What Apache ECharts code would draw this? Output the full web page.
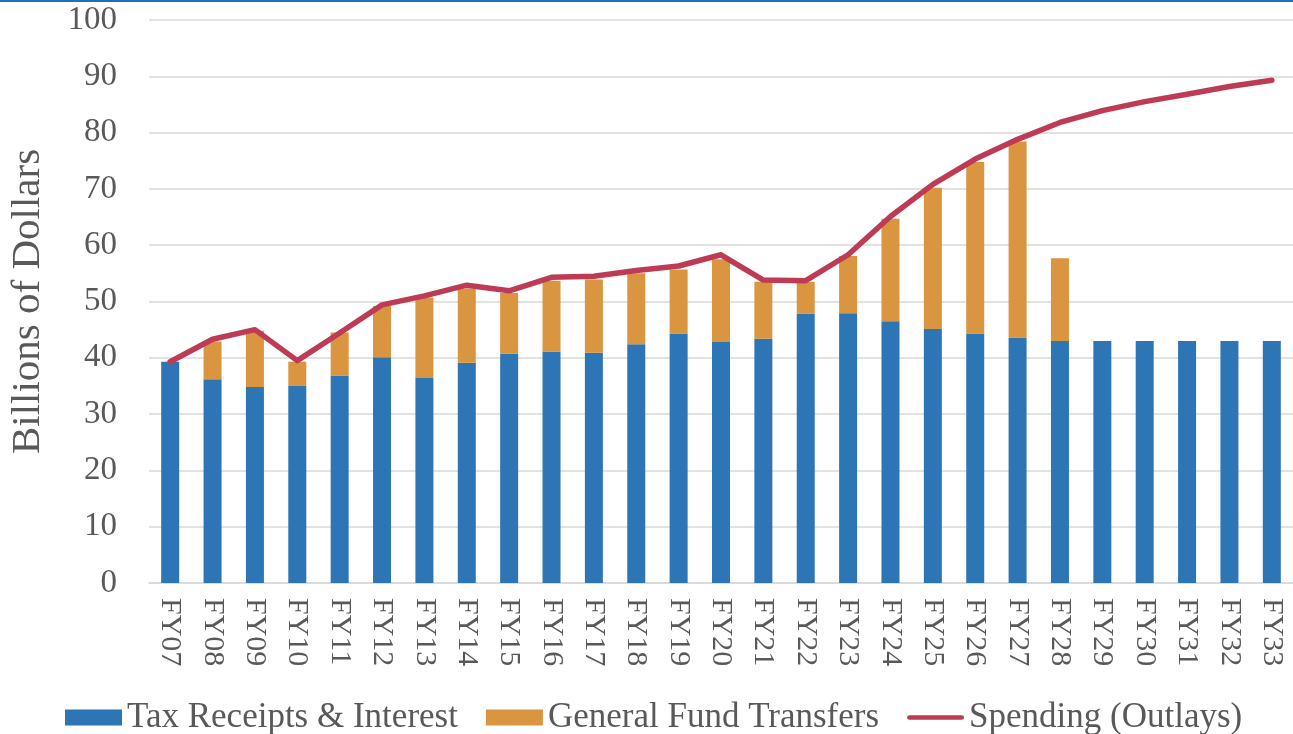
<!DOCTYPE html>
<html>
<head>
<meta charset="utf-8">
<script src="https://cdn.jsdelivr.net/npm/echarts@6/dist/echarts.min.js"></script>
<style>
  html,body{margin:0;padding:0;background:#fff;}
  #main{width:1293px;height:734px;}
  #topline{position:absolute;left:0;top:0;width:1293px;height:2px;background:#1f6fbf;}
</style>
</head>
<body>
<div id="main"></div>
<div id="topline"></div>
<script>
// 年度
var years = ['FY07','FY08','FY09','FY10','FY11','FY12','FY13','FY14','FY15','FY16','FY17','FY18','FY19','FY20',
             'FY21','FY22','FY23','FY24','FY25','FY26','FY27','FY28','FY29','FY30','FY31','FY32','FY33'];
// 税收及利息
var taxReceipts = [39.3,36.2,34.8,35.0,36.8,40.1,36.4,39.1,40.7,41.1,40.9,42.4,44.3,42.8,
                   43.4,47.8,47.9,46.5,45.1,44.3,43.6,43.0,43.0,43.0,43.0,43.0,43.0];
// 一般基金转移 (柱子总高, 减去税收)
var fundTotals = [39.3,42.9,44.8,39.3,44.5,49.2,50.7,52.3,51.5,53.7,53.9,55.0,55.7,57.5,
                  53.5,53.5,58.1,64.7,70.2,74.8,78.4,57.7,null,null,null,null,null];
var fundTransfers = [];
for(var i=0;i<fundTotals.length;i++){
    fundTransfers.push(fundTotals[i]==null ? null : +(fundTotals[i]-taxReceipts[i]).toFixed(1));
}
// 支出
var spending = [39.3,43.3,45.0,39.5,44.4,49.4,51.0,52.9,51.9,54.3,54.5,55.5,56.3,58.3,
                53.8,53.7,58.3,65.1,70.8,75.3,78.8,81.8,83.9,85.5,86.8,88.2,89.3];

var textColor = '#595959';
var font = '"Liberation Serif", "DejaVu Serif", serif';

var chart = echarts.init(document.getElementById('main'));
var option = {
    animation:false,
    textStyle:{fontFamily:font},
    grid:{left:149, right:-13, top:20, bottom:151},
    legend:{
        left:60,
        top:695,
        itemWidth:57,
        itemHeight:16,
        itemGap:28,
        textStyle:{fontFamily:font, fontSize:35, color:textColor},
        data:[
            {name:'Tax Receipts & Interest', icon:'rect'},
            {name:'General Fund Transfers', icon:'rect'},
            {name:'Spending (Outlays)', icon:'path://M2.5,0 H59.5 A2.5,2.5 0 0 1 59.5,5 H2.5 A2.5,2.5 0 0 1 2.5,0 Z'}
        ]
    },
    xAxis:{
        type:'category',
        data:years,
        axisTick:{show:false},
        axisLine:{lineStyle:{color:'#d9d9d9', width:1.5}},
        axisLabel:{rotate:-90, margin:15, fontFamily:font, fontSize:30, color:textColor}
    },
    yAxis:{
        type:'value',
        min:0,
        max:100,
        interval:10,
        name:'Billions of Dollars',
        nameLocation:'middle',
        nameGap:100,
        nameTextStyle:{fontFamily:font, fontSize:41, color:textColor},
        axisLabel:{margin:32, fontFamily:font, fontSize:33, color:textColor},
        splitLine:{lineStyle:{color:'#d9d9d9', width:1.5}}
    },
    series:[
        {
            name:'Tax Receipts & Interest',
            type:'bar',
            stack:'funds',
            barWidth:18,
            itemStyle:{color:'#2e75b6'},
            data:taxReceipts
        },
        {
            name:'General Fund Transfers',
            type:'bar',
            stack:'funds',
            barWidth:18,
            itemStyle:{color:'#d99540'},
            data:fundTransfers
        },
        {
            name:'Spending (Outlays)',
            type:'line',
            symbol:'none',
            lineStyle:{color:'#be3b55', width:5.5, cap:'round', join:'round'},
            itemStyle:{color:'#be3b55'},
            data:spending
        }
    ]
};
chart.setOption(option);
</script>
</body>
</html>
